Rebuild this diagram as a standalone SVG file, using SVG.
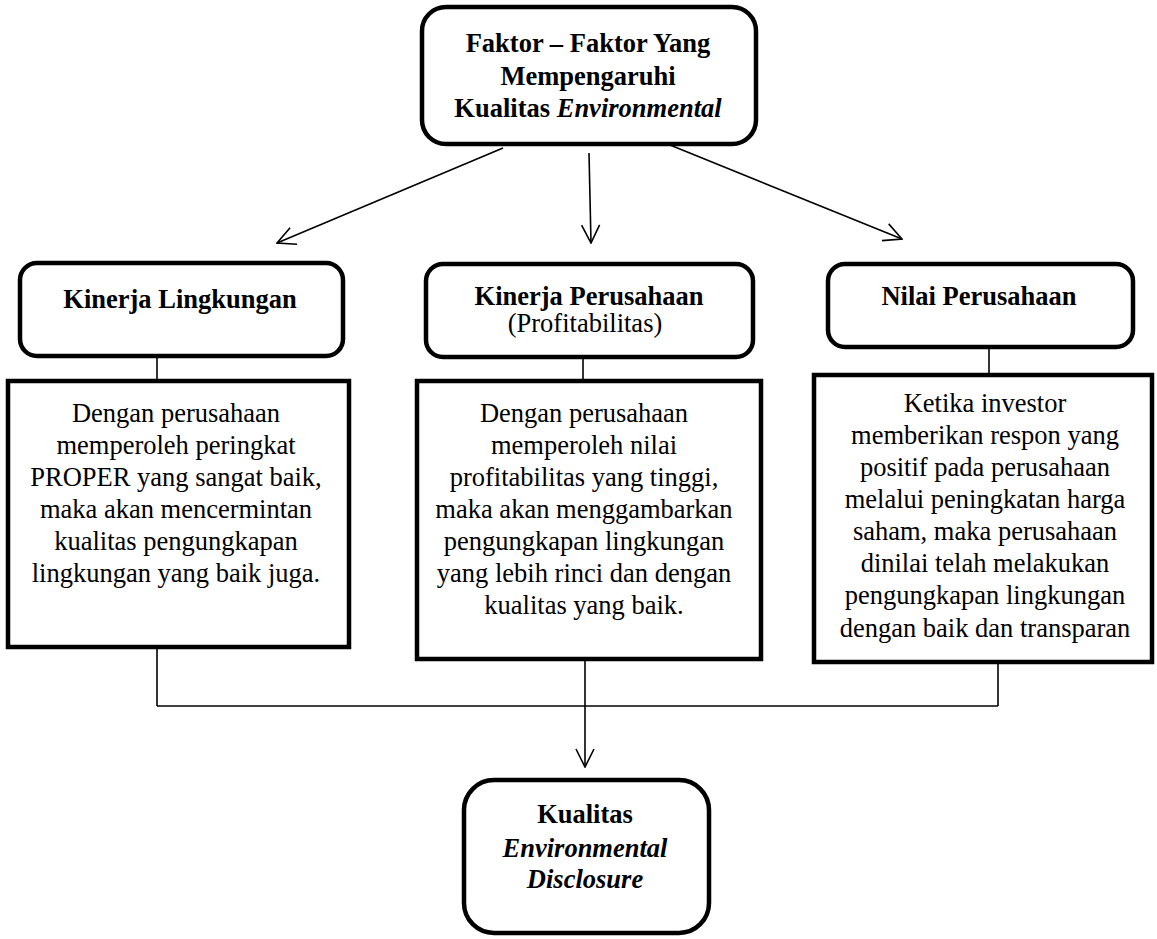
<svg xmlns="http://www.w3.org/2000/svg" width="1157" height="939" viewBox="0 0 1157 939">
<defs>
<style>
.rbox{fill:#fff;stroke:#000;stroke-width:4.5}
.box{fill:#fff;stroke:#000;stroke-width:4.5}
.t{font-family:"Liberation Serif","Times New Roman",serif;font-size:26.5px;fill:#000;text-anchor:middle}
.b{font-weight:bold}
.i{font-style:italic}
.c{fill:none;stroke:#000;stroke-width:1.6}
</style>
<marker id="ah" viewBox="0 0 20 20" refX="19" refY="10" markerWidth="20" markerHeight="20" markerUnits="userSpaceOnUse" orient="auto">
<path d="M1,1 L19,10 L1,19" fill="none" stroke="#000" stroke-width="1.6"/>
</marker>
</defs>
<rect width="1157" height="939" fill="#fff"/>
<g id="connectors">
<line class="c" x1="503" y1="148" x2="277" y2="243" marker-end="url(#ah)"/>
<line class="c" x1="589" y1="153" x2="591" y2="243" marker-end="url(#ah)"/>
<line class="c" x1="670" y1="145" x2="902" y2="239" marker-end="url(#ah)"/>
<line class="c" x1="157" y1="357" x2="157" y2="380"/>
<line class="c" x1="583" y1="357" x2="583" y2="380"/>
<line class="c" x1="989" y1="347" x2="989" y2="373"/>
<line class="c" x1="157" y1="648" x2="157" y2="706"/>
<line class="c" x1="998" y1="663" x2="998" y2="706"/>
<line class="c" x1="157" y1="706" x2="998" y2="706"/>
<line class="c" x1="585" y1="660" x2="585" y2="767" marker-end="url(#ah)"/>
</g>
<g id="top">
<rect class="rbox" x="422" y="7" width="334" height="137" rx="24"/>
<text class="t b" x="588" y="52">Faktor – Faktor Yang</text>
<text class="t b" x="588" y="85">Mempengaruhi</text>
<text class="t b" x="588" y="117">Kualitas <tspan class="i">Environmental</tspan></text>
</g>
<g id="kinerja-lingkungan">
<rect class="rbox" x="20" y="263" width="323" height="93" rx="17"/>
<text class="t b" x="180" y="308">Kinerja Lingkungan</text>
</g>
<g id="kinerja-perusahaan">
<rect class="rbox" x="426" y="264" width="327" height="93" rx="17"/>
<text class="t b" x="589" y="305">Kinerja Perusahaan</text>
<text class="t" x="585" y="332">(Profitabilitas)</text>
</g>
<g id="nilai-perusahaan">
<rect class="rbox" x="828" y="264" width="305" height="83" rx="17"/>
<text class="t b" x="979" y="305">Nilai Perusahaan</text>
</g>
<g id="desc1">
<rect class="box" x="8" y="381" width="341" height="266"/>
<text class="t" x="176" y="422">Dengan perusahaan</text>
<text class="t" x="176" y="454">memperoleh peringkat</text>
<text class="t" x="176" y="486">PROPER yang sangat baik,</text>
<text class="t" x="176" y="518">maka akan mencermintan</text>
<text class="t" x="176" y="550">kualitas pengungkapan</text>
<text class="t" x="176" y="582">lingkungan yang baik juga.</text>
</g>
<g id="desc2">
<rect class="box" x="417" y="381" width="344" height="278"/>
<text class="t" x="584" y="422">Dengan perusahaan</text>
<text class="t" x="584" y="454">memperoleh nilai</text>
<text class="t" x="584" y="486">profitabilitas yang tinggi,</text>
<text class="t" x="584" y="518">maka akan menggambarkan</text>
<text class="t" x="584" y="550">pengungkapan lingkungan</text>
<text class="t" x="584" y="582">yang lebih rinci dan dengan</text>
<text class="t" x="584" y="614">kualitas yang baik.</text>
</g>
<g id="desc3">
<rect class="box" x="814" y="375" width="338" height="287"/>
<text class="t" x="985" y="412">Ketika investor</text>
<text class="t" x="985" y="444">memberikan respon yang</text>
<text class="t" x="985" y="476">positif pada perusahaan</text>
<text class="t" x="985" y="508">melalui peningkatan harga</text>
<text class="t" x="985" y="540">saham, maka perusahaan</text>
<text class="t" x="985" y="572">dinilai telah melakukan</text>
<text class="t" x="985" y="604">pengungkapan lingkungan</text>
<text class="t" x="985" y="637">dengan baik dan transparan</text>
</g>
<g id="bottom">
<rect class="rbox" x="464" y="780" width="245" height="153" rx="30"/>
<text class="t b" x="585" y="823">Kualitas</text>
<text class="t b i" x="585" y="857">Environmental</text>
<text class="t b i" x="585" y="888">Disclosure</text>
</g>
</svg>
